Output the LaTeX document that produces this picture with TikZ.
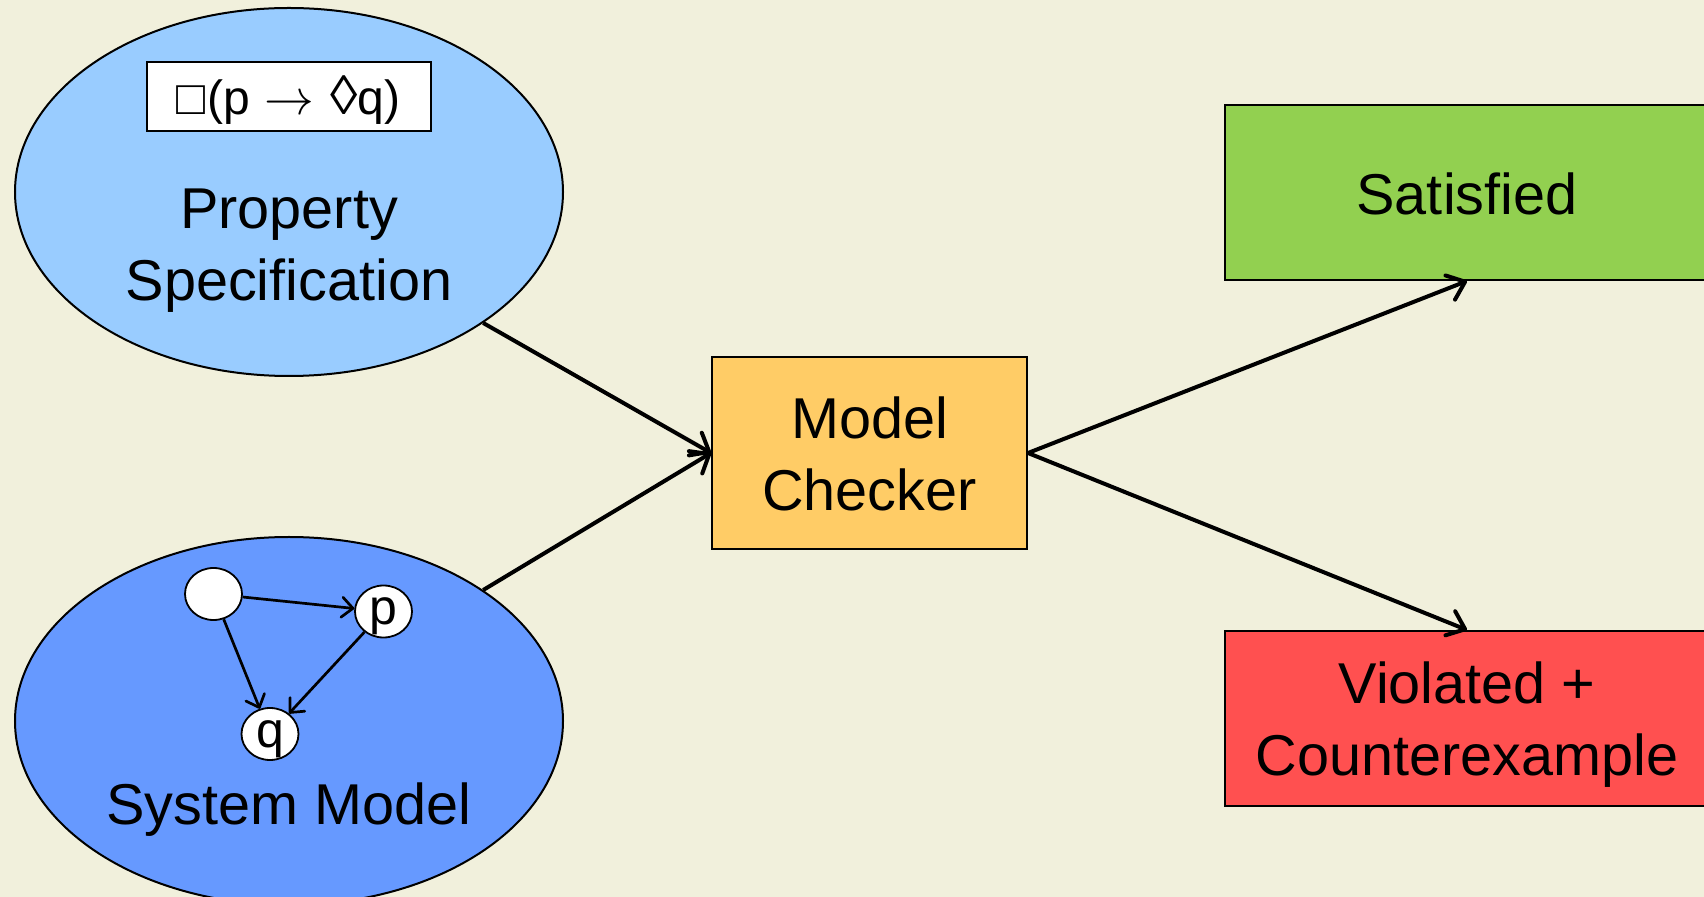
\documentclass[tikz,border=0pt]{standalone}
\usepackage{fontspec}
\usepackage{graphicx}
\setmainfont{Liberation Sans}
\usetikzlibrary{shapes.geometric,arrows.meta}
\definecolor{paper}{RGB}{241,240,220}
\definecolor{specblue}{RGB}{153,204,255}
\definecolor{sysblue}{RGB}{102,153,255}
\definecolor{checkorange}{RGB}{255,204,102}
\definecolor{okgreen}{RGB}{146,208,80}
\definecolor{badred}{RGB}{255,80,80}
\tikzset{
  bigtext/.style={font=\fontsize{28.8}{36}\selectfont, align=center},
  formulatext/.style={font=\fontsize{24}{28}\selectfont, inner sep=0pt},
  statetext/.style={font=\fontsize{25}{28}\selectfont},
  blob/.style={ellipse, draw=black, line width=1pt, minimum width=274pt, minimum height=184pt, inner sep=0pt},
  box/.style={rectangle, draw=black, line width=1pt, inner sep=0pt},
  state/.style={ellipse, draw=black, fill=white, line width=0.9pt, minimum width=28.5pt, minimum height=26pt, inner sep=0pt, statetext, text depth=0pt},
  flow/.style={line width=2pt, -{Straight Barb[length=8pt, width=13pt, line width=2pt, round]}},
  trans/.style={line width=1.35pt, -{Straight Barb[length=5.5pt, width=10pt, line width=1.35pt, round]}},
}
\begin{document}
\begin{tikzpicture}[x=0.5pt, y=-0.5pt]
  % canvas
  \fill[paper] (0,0) rectangle (1704,897);
  \useasboundingbox (0,0) rectangle (1704,897);
  \clip (0,0) rectangle (1704,897);

  % property specification
  \node[blob, fill=specblue] (pe) at (289,192) {};
  \node[box, fill=white, minimum width=142pt, minimum height=34.5pt] (formula) at (288.5,96.5) {};
  \node[formulatext] (ftxt) at (288.5,100)
    {□\hspace{1pt}(p\hspace{7pt}$\rightarrow$\hspace{8pt}\scalebox{1.15}{◊}q)};
  \node[bigtext] (ptxt) at (289,250.5) {Property\\Specification};

  % system model
  \node[blob, fill=sysblue] (se) at (289,721) {};
  \node[bigtext] (stxt) at (289,810) {System Model};
  \node[state] (s0) at (213.5,594) {};
  \node[state] (sp) at (383.5,611.5) {p};
  \node[state] (sq) at (270,734) {q};
  \draw[trans] (s0) -- (sp);
  \draw[trans] (s0) -- (sq);
  \draw[trans] (sp) -- (sq);

  % model checker
  \node[box, fill=checkorange, minimum width=157.5pt, minimum height=96pt] (mc) at (869.5,453) {};
  \node[bigtext] (mctxt) at (869.5,454) {Model\\Checker};

  % results
  \node[box, fill=okgreen, minimum width=242pt, minimum height=87.5pt] (sat) at (1467,192.5) {};
  \node[bigtext] (sattxt) at (1467,194) {Satisfied};
  \node[box, fill=badred, minimum width=242pt, minimum height=87.5pt] (vio) at (1467,718.5) {};
  \node[bigtext] (viotxt) at (1467,724.5) {Violated +\\Counterexample};

  % connectors
  \draw[flow] (pe.-34) -- (mc.west);
  \draw[flow] (se.34) -- (mc.west);
  \draw[flow] (mc.east) -- (sat.south);
  \draw[flow] (mc.east) -- (vio.north);
\end{tikzpicture}
\end{document}
